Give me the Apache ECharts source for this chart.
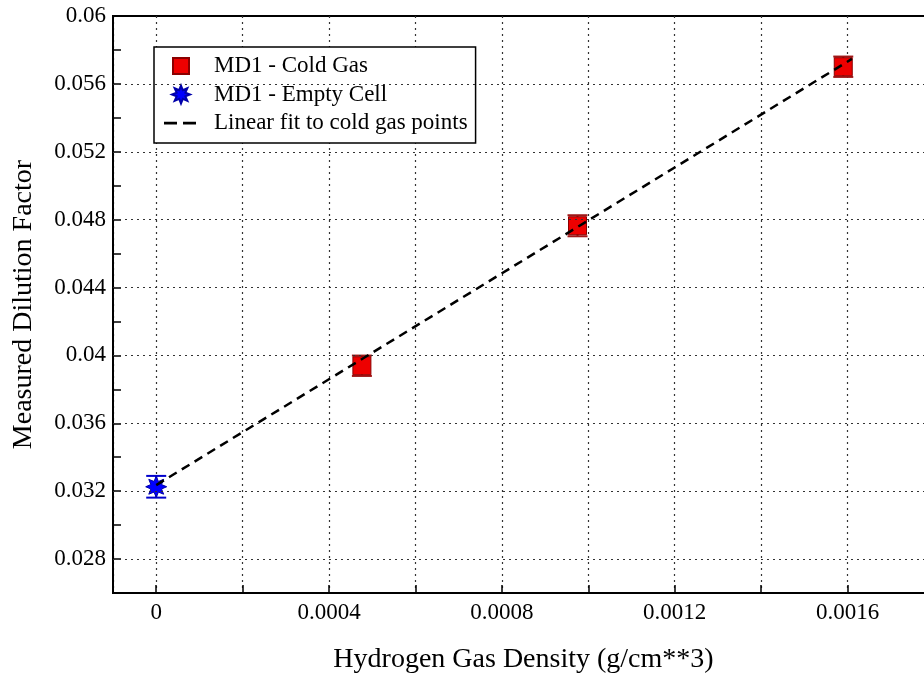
<!DOCTYPE html>
<html>
<head>
<meta charset="utf-8">
<script src="https://cdn.jsdelivr.net/npm/echarts@6/dist/echarts.min.js"></script>
<style>
html, body { margin: 0; padding: 0; background: #fff; }
#chart { width: 924px; height: 673px; }
</style>
</head>
<body>
<div id="chart"></div>
<script>
// MD1 - Cold Gas
const coldX = [0.000476, 0.000975, 0.00159]
const coldY = [0.03939, 0.04764, 0.05701]
const coldErr = [0.0006, 0.00062, 0.0006]
// MD1 - Empty Cell
const emptyX = [0]
const emptyY = [0.03226]
const emptyErr = [0.00064]
// linear fit (end points of the dashed line)
const fitX = [0, 0.00161]
const fitY = [0.03236, 0.05747]
// major horizontal grid lines
const yGrid = [0.028, 0.032, 0.036, 0.04, 0.044, 0.048, 0.052, 0.056]

const FONT = '"Liberation Serif", "DejaVu Serif", serif'

// 8-point star outline, centred on (cx, cy)
function starSeg(cx, cy, R, r) {
    let d = ''
    for (let k = 0; k < 16; k++) {
        const a = k * Math.PI / 8 - Math.PI / 2
        const rr = k % 2 === 0 ? R : r
        d += (k === 0 ? 'M' : 'L') + (cx + rr * Math.cos(a)).toFixed(2) + ' ' + (cy + rr * Math.sin(a)).toFixed(2)
    }
    return d + 'Z'
}

// legend icons: leading moveTo points pin the box to 34 x 18
const ICON_BOX = 'M0 0M34 18'
const iconSquare = 'path://' + ICON_BOX + 'M9 1h16v16h-16z'
const iconStar = 'path://' + ICON_BOX + starSeg(17, 9, 9.5, 5)
const iconDash = 'path://' + ICON_BOX + 'M0 7.8h13v2.6h-13zM19 7.8h13v2.6h-13z'

function errorBars(xs, ys, es) {
    return xs.map((x, i) => [x, ys[i], es[i]])
}

function renderErr(color) {
    return function (params, api) {
        const x = api.value(0), y = api.value(1), e = api.value(2)
        const top = api.coord([x, y + e])
        const bot = api.coord([x, y - e])
        const w = 10
        const style = { stroke: color, lineWidth: 2 }
        return {
            type: 'group',
            children: [
                { type: 'line', shape: { x1: top[0], y1: top[1], x2: bot[0], y2: bot[1] }, style },
                { type: 'line', shape: { x1: top[0] - w, y1: top[1], x2: top[0] + w, y2: top[1] }, style },
                { type: 'line', shape: { x1: bot[0] - w, y1: bot[1], x2: bot[0] + w, y2: bot[1] }, style }
            ]
        }
    }
}

const chart = echarts.init(document.getElementById('chart'))
chart.setOption({
    animation: false,
    backgroundColor: '#fff',
    grid: {
        left: 113,
        top: 16,
        width: 821,
        bottom: 80,
        outerBoundsMode: 'none',
        show: true,
        borderColor: '#000',
        borderWidth: 2
    },
    legend: {
        orient: 'vertical',
        left: 154,
        top: 47,
        padding: [7, 8, 8, 9],
        itemGap: 4.5,
        itemWidth: 34,
        itemHeight: 18,
        borderColor: '#000',
        borderWidth: 1.5,
        backgroundColor: '#fff',
        textStyle: { fontFamily: FONT, fontSize: 23, lineHeight: 24, color: '#000', padding: [0, 0, 0, 11] },
        data: [
            { name: 'MD1 - Cold Gas', icon: iconSquare },
            { name: 'MD1 - Empty Cell', icon: iconStar },
            { name: 'Linear fit to cold gas points', icon: iconDash }
        ]
    },
    xAxis: {
        type: 'value',
        min: -0.0001,
        max: 0.0018,
        splitNumber: 10,
        name: 'Hydrogen Gas Density (g/cm**3)',
        nameLocation: 'middle',
        nameGap: 53,
        nameTextStyle: { fontFamily: FONT, fontSize: 28, color: '#000' },
        axisLine: { onZero: false, lineStyle: { color: '#000', width: 2 } },
        axisTick: { inside: true, length: 8, lineStyle: { color: '#000', width: 1.5 } },
        axisLabel: {
            margin: 8,
            fontFamily: FONT,
            fontSize: 23,
            color: '#000',
            formatter: v => {
                if (v < -1e-9) return ''
                const k = Math.round(v / 0.0002)
                return k % 2 === 0 ? String(+v.toFixed(5)) : ''
            }
        },
        splitLine: { show: true, lineStyle: { color: '#333', type: [2, 4], width: 1.2 } }
    },
    yAxis: {
        type: 'value',
        min: 0.026,
        max: 0.06,
        interval: 0.002,
        name: 'Measured Dilution Factor',
        nameLocation: 'middle',
        nameGap: 75,
        nameTextStyle: { fontFamily: FONT, fontSize: 28, color: '#000' },
        axisLine: { show: true, onZero: false, lineStyle: { color: '#000', width: 2 } },
        axisTick: { show: true, inside: true, length: 8, lineStyle: { color: '#000', width: 1.5 } },
        axisLabel: {
            margin: 7,
            fontFamily: FONT,
            fontSize: 23,
            color: '#000',
            formatter: v => {
                const k = Math.round((v - 0.028) / 0.002)
                return (k >= 0 && k % 2 === 0) ? String(+v.toFixed(4)) : ''
            }
        },
        splitLine: { show: false }
    },
    series: [
        {
            type: 'custom',
            name: 'coldErr',
            renderItem: renderErr('#a01818'),
            data: errorBars(coldX, coldY, coldErr),
            z: 3,
            markLine: {
                silent: true,
                symbol: 'none',
                precision: 4,
                label: { show: false },
                lineStyle: { color: '#333', type: [2, 4], width: 1.2 },
                data: yGrid.map(v => ({ yAxis: v }))
            }
        },
        {
            type: 'custom',
            name: 'emptyErr',
            renderItem: renderErr('#0000cc'),
            data: errorBars(emptyX, emptyY, emptyErr),
            z: 3
        },
        {
            type: 'scatter',
            name: 'MD1 - Cold Gas',
            symbol: 'rect',
            symbolSize: 18,
            itemStyle: { color: '#ee0000', borderColor: '#8b0000', borderWidth: 1, opacity: 1 },
            data: coldX.map((x, i) => [x, coldY[i]]),
            z: 4
        },
        {
            type: 'scatter',
            name: 'MD1 - Empty Cell',
            symbol: 'path://' + starSeg(10, 10, 10, 5.5),
            symbolSize: 21,
            itemStyle: { color: '#0000ff', borderColor: '#0000aa', borderWidth: 1, opacity: 1 },
            data: emptyX.map((x, i) => [x, emptyY[i]]),
            z: 4
        },
        {
            type: 'line',
            name: 'Linear fit to cold gas points',
            symbol: 'none',
            lineStyle: { color: '#000', width: 2.5, type: [9, 6] },
            itemStyle: { color: '#000' },
            data: fitX.map((x, i) => [x, fitY[i]]),
            z: 5
        }
    ]
})
</script>
</body>
</html>
